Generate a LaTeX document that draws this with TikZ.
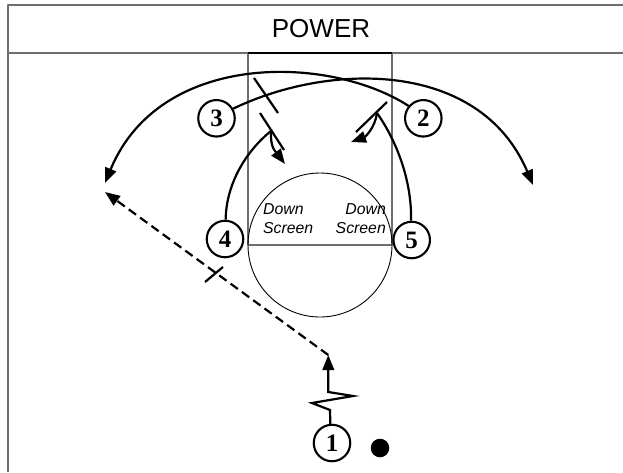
\documentclass[tikz,border=0pt]{standalone}
\usepackage{fontspec}
\setmainfont{Liberation Serif}
\setsansfont{Liberation Sans}
\usetikzlibrary{arrows.meta}
\definecolor{linegray}{RGB}{110,110,110}
\begin{document}
\begin{tikzpicture}[x=1pt,y=-1pt,line join=round,
  player/.style={circle,draw,line width=2.1pt,minimum size=36.5pt,inner sep=0pt,
    font=\fontsize{25}{25}\selectfont\bfseries},
  mv/.style={line width=2.2pt},
  tip/.style={-{Triangle[length=15pt,width=11.5pt]}},
  passline/.style={line width=2.2pt,dash pattern=on 9pt off 5pt},
  lbl/.style={font=\sffamily\itshape\fontsize{15.8}{19}\selectfont,inner sep=0pt},
  frameline/.style={draw=linegray,line width=1.6pt},
  laneline/.style={draw=linegray,line width=1.1pt}]
\useasboundingbox (0,0) rectangle (623,472);
% frame
\draw[frameline] (8,472) -- (8,5) -- (623,5);
\draw[frameline] (8,53) -- (623,53);
\node[font=\sffamily\fontsize{26}{26}\selectfont,anchor=base,inner sep=0pt] (title) at (321,37.3) {POWER};
% lane and circle
\draw[laneline] (248,53) -- (248,245) -- (392,245) -- (392,53);
\draw[line width=2.4pt] (248,53) -- (392,53);
\draw[line width=0.9pt] (320,245) circle[radius=72];
% labels
\node[lbl,anchor=west,align=left] (dl) at (263,219) {Down\\Screen};
\node[lbl,anchor=east,align=right] (dr) at (386,219) {Down\\Screen};
% players
\node[player] (p3) at (216.5,118.3) {3};
\node[player] (p2) at (423.3,118.3) {2};
\node[player] (p4) at (225,239) {4};
\node[player] (p5) at (411.7,240) {5};
\node[player] (p1) at (332,443) {1};
\fill (380,448) circle[radius=9.3];
% coordinates
\coordinate (e3) at (533,185);
\coordinate (e2) at (105,183);
\coordinate (s4) at (271,131);
\coordinate (h4) at (285,164);
\coordinate (s5) at (377,113);
\coordinate (h5) at (351,142);
\coordinate (d1) at (328.3,355);
\coordinate (e1) at (105,192);
\coordinate (b4a) at (260,113);
\coordinate (b4b) at (284,150);
\coordinate (b3a) at (254,78);
\coordinate (b3b) at (278,113);
\coordinate (b5a) at (387,102);
\coordinate (b5b) at (356,132);
\coordinate (pta) at (205,282);
\coordinate (ptb) at (223,267);
% long cuts
\draw[mv,tip] (p3.30) .. controls (330,62) and (480,60) .. (e3);
\draw[mv,tip] (p2.140) .. controls (330,55) and (160,50) .. (e2);
% screens
\draw[mv] (p4.88) .. controls (226,185) and (245,152) .. (s4);
\draw[mv] (b4a) -- (b4b);
\draw[mv] (b3a) -- (b3b);
\draw[mv,tip] (s4) .. controls (270,148) and (276,152) .. (h4);
\draw[mv] (p5.92) .. controls (412,180) and (396,140) .. (s5);
\draw[mv] (b5a) -- (b5b);
\draw[mv,tip] (s5) .. controls (375,128) and (365,137) .. (h5);
% dribble and pass
\draw[mv,tip,line join=miter] (p1.95) -- (330,410) -- (312,403) -- (353,396) -- (328.3,392) -- (d1);
\draw[passline,tip] (d1) -- (e1);
\draw[mv] (pta) -- (ptb);
\end{tikzpicture}
\end{document}
